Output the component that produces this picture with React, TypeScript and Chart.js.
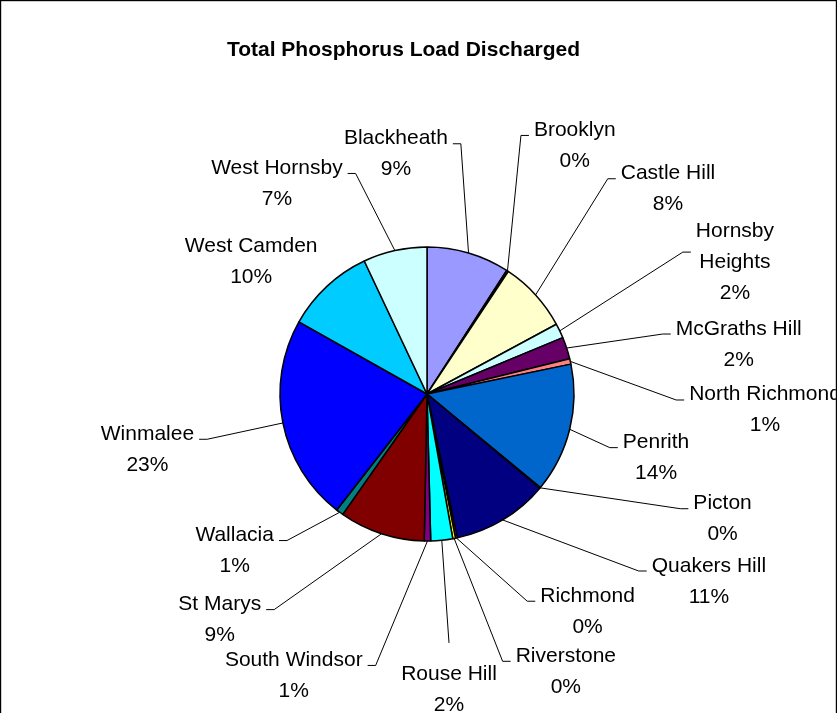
import React, { useEffect, useRef } from "react";
import { Chart, ArcElement, PieController } from "chart.js";

Chart.register(ArcElement, PieController);

// ---------- data ----------
const chartTitle = "Total Phosphorus Load Discharged";

const categories = [
  "Blackheath",
  "Brooklyn",
  "Castle Hill",
  "Hornsby Heights",
  "McGraths Hill",
  "North Richmond",
  "Penrith",
  "Picton",
  "Quakers Hill",
  "Richmond",
  "Riverstone",
  "Rouse Hill",
  "South Windsor",
  "St Marys",
  "Wallacia",
  "Winmalee",
  "West Camden",
  "West Hornsby",
];

// share of total load (%)
const loadShare = [
  9.1, 0.2, 7.8, 1.6, 2.4, 0.6, 14.2, 0.1, 10.6, 0.2, 0.3, 2.4, 0.7, 9.4, 0.8,
  22.6, 9.8, 7.0,
];

// ---------- styles / layout ----------
const sliceColors = [
  "#9999FF",
  "#993366",
  "#FFFFCC",
  "#CCFFFF",
  "#660066",
  "#FF8080",
  "#0066CC",
  "#CCCCFF",
  "#000080",
  "#FF00FF",
  "#FFFF00",
  "#00FFFF",
  "#800080",
  "#800000",
  "#008080",
  "#0000FF",
  "#00CCFF",
  "#CCFFFF",
];

// label placement, polar relative to the pie centre:
// angle in degrees clockwise from 12 o'clock, distance in pie radii
const labelAngle = [
  352.9, 29.8, 48.3, 63.0, 79.2, 91.1, 103.3, 111.3, 122.2, 142.3, 152.6, 175.6,
  206.1, 223.8, 232.6, 260.7, 309.0, 325.7,
];
const labelDistance = [
  1.712, 2.023, 2.196, 2.351, 2.159, 2.3, 1.601, 2.158, 2.266, 1.786, 2.052,
  1.951, 2.06, 2.037, 1.647, 1.927, 1.539, 1.812,
];
const wrappedLabels = ["Hornsby Heights"];

const FONT = '"Liberation Sans", Arial, Helvetica, sans-serif';
const LINE_H = 31;

const framePlugin = {
  id: "frameAndTitle",
  beforeDraw(chart: any) {
    const ctx = chart.ctx as CanvasRenderingContext2D;
    ctx.save();
    ctx.fillStyle = "#fff";
    ctx.fillRect(0, 0, chart.width, chart.height);
    ctx.strokeStyle = "#000";
    ctx.lineWidth = 1.2;
    ctx.strokeRect(0.6, 0.6, chart.width - 1.2, chart.height + 40);
    ctx.fillStyle = "#000";
    ctx.font = `bold 21px ${FONT}`;
    ctx.textAlign = "center";
    ctx.textBaseline = "alphabetic";
    const meta = chart.getDatasetMeta(0);
    const cx = meta.data.length ? (meta.data[0] as any).x : chart.width / 2;
    ctx.fillText(chartTitle, cx - 23.5, 56);
    ctx.restore();
  },
};

const leaderLabelPlugin = {
  id: "leaderLabels",
  afterDatasetsDraw(chart: any) {
    const ctx = chart.ctx as CanvasRenderingContext2D;
    const meta = chart.getDatasetMeta(0);
    const values = chart.data.datasets[0].data as number[];
    const total = values.reduce((a, b) => a + b, 0);
    ctx.save();
    ctx.font = `21px ${FONT}`;
    ctx.fillStyle = "#000";
    ctx.strokeStyle = "#000";
    ctx.lineWidth = 1;
    ctx.textAlign = "center";
    ctx.textBaseline = "alphabetic";

    meta.data.forEach((arc: any, i: number) => {
      const { x, y, startAngle, endAngle, outerRadius } = arc.getProps(
        ["x", "y", "startAngle", "endAngle", "outerRadius"],
        true
      );
      const mid = (startAngle + endAngle) / 2;
      const px = x + outerRadius * Math.cos(mid);
      const py = y + outerRadius * Math.sin(mid);

      const th = (labelAngle[i] * Math.PI) / 180;
      const d = labelDistance[i] * outerRadius;
      const cx = x + d * Math.sin(th);
      const by = y - d * Math.cos(th);

      const name = categories[i];
      const lines = wrappedLabels.includes(name) ? name.split(" ") : [name];
      lines.push(Math.round((values[i] / total) * 100) + "%");

      const w = Math.max(...lines.map((l) => ctx.measureText(l).width));
      const left = cx - w / 2;
      const right = cx + w / 2;
      const lastBy = by + (lines.length - 1) * LINE_H;
      const top = by - 37;
      const bottom = lastBy + 12;

      const gx = Math.max(left - 5 - px, 0, px - right - 5);
      const gy = Math.max(top - py, 0, py - bottom);
      if (Math.hypot(gx, gy) > 15) {
        const ty = (by + lastBy) / 2 - 16;
        ctx.beginPath();
        if (px < left - 5) {
          ctx.moveTo(left - 5, ty);
          ctx.lineTo(left - 13, ty);
          ctx.lineTo(px, py);
        } else if (px > right + 5) {
          ctx.moveTo(right + 5, ty);
          ctx.lineTo(right + 13, ty);
          ctx.lineTo(px, py);
        } else if (py < top) {
          ctx.moveTo(cx, top);
          ctx.lineTo(px, py);
        } else {
          ctx.moveTo(cx, bottom);
          ctx.lineTo(px, py);
        }
        ctx.stroke();
      }

      lines.forEach((l, k) => ctx.fillText(l, cx, by + k * LINE_H));
    });
    ctx.restore();
  },
};

export default function App() {
  const ref = useRef<HTMLCanvasElement | null>(null);

  useEffect(() => {
    document.body.style.margin = "0";
    if (!ref.current) return;
    const chart = new Chart(ref.current, {
      type: "pie",
      data: {
        labels: categories,
        datasets: [
          {
            data: loadShare,
            backgroundColor: sliceColors,
            borderColor: "#000",
            borderWidth: 1.5,
          },
        ],
      },
      options: {
        responsive: false,
        animation: false,
        radius: 147,
        layout: { padding: { left: 280, right: 263, top: 247, bottom: 172 } },
        plugins: {
          legend: { display: false },
          tooltip: { enabled: false },
        },
      } as any,
      plugins: [framePlugin, leaderLabelPlugin],
    });
    return () => chart.destroy();
  }, []);

  return (
    <div style={{ width: 837, height: 713 }}>
      <canvas ref={ref} width={837} height={713} style={{ display: "block" }} />
    </div>
  );
}
